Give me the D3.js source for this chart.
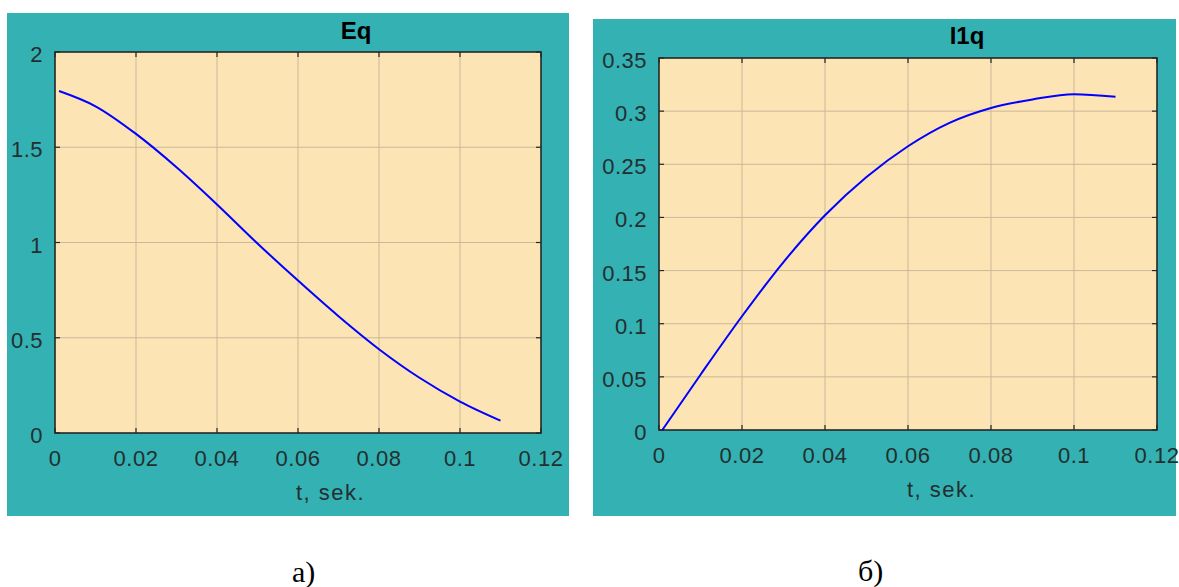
<!DOCTYPE html>
<html>
<head>
<meta charset="utf-8">
<script src="https://cdn.jsdelivr.net/npm/d3@7/dist/d3.min.js"></script>
<style>
body { margin: 0; background: #fff; }
svg { display: block; }
</style>
</head>
<body>
<script>
// data
var tEq = [0.001, 0.01, 0.02, 0.03, 0.04, 0.05, 0.06, 0.07, 0.08, 0.09, 0.1, 0.11];
var eqValues = [1.795, 1.715, 1.570, 1.395, 1.200, 0.995, 0.800, 0.613, 0.440, 0.290, 0.165, 0.065];

var tI1q = [0.0008, 0.01, 0.02, 0.03, 0.04, 0.05, 0.06, 0.07, 0.08, 0.09, 0.1, 0.11];
var i1qValues = [0, 0.052, 0.107, 0.158, 0.202, 0.238, 0.267, 0.289, 0.303, 0.311, 0.316, 0.3135];

var xTicks = [0, 0.02, 0.04, 0.06, 0.08, 0.1, 0.12];
var xTickLabels = ["0", "0.02", "0.04", "0.06", "0.08", "0.1", "0.12"];
var eqTicks = [0, 0.5, 1, 1.5, 2];
var eqTickLabels = ["0", "0.5", "1", "1.5", "2"];
var i1qTicks = [0, 0.05, 0.1, 0.15, 0.2, 0.25, 0.3, 0.35];
var i1qTickLabels = ["0", "0.05", "0.1", "0.15", "0.2", "0.25", "0.3", "0.35"];

var titles = ["Eq", "I1q"];
var xLabel = "t, sek.";
var captions = ["а)", "б)"];

var width = 1179, height = 587;

var svg = d3.select("body").append("svg")
    .attr("width", width)
    .attr("height", height);

var panels = [
    {box: [7, 13, 562, 503], plot: {l: 55, t: 52, r: 541, b: 433},
     t: tEq, v: eqValues, yTicks: eqTicks, yLabels: eqTickLabels, yMax: 2,
     title: titles[0], titleX: 356, titleY: 39, xlabX: 296, xlabY: 500,
     cap: captions[0], capX: 292, capY: 582},
    {box: [593, 19, 583, 497], plot: {l: 659, t: 58, r: 1157, b: 430},
     t: tI1q, v: i1qValues, yTicks: i1qTicks, yLabels: i1qTickLabels, yMax: 0.35,
     title: titles[1], titleX: 967, titleY: 44, xlabX: 907, xlabY: 497,
     cap: captions[1], capX: 858, capY: 581}
];

var textCol = "#232f2f";

panels.forEach(function(p) {
    var g = svg.append("g");
    var pl = p.plot;

    g.append("rect")
        .attr("x", p.box[0]).attr("y", p.box[1])
        .attr("width", p.box[2]).attr("height", p.box[3])
        .attr("fill", "#34b1b3");

    var x = d3.scaleLinear().domain([0, 0.12]).range([pl.l, pl.r]);
    var y = d3.scaleLinear().domain([0, p.yMax]).range([pl.b, pl.t]);

    g.append("rect")
        .attr("x", pl.l).attr("y", pl.t)
        .attr("width", pl.r - pl.l).attr("height", pl.b - pl.t)
        .attr("fill", "#fde4b4");

    // grid
    g.selectAll(".vg").data(xTicks.slice(1, -1)).enter().append("line")
        .attr("x1", function(d) { return x(d); }).attr("x2", function(d) { return x(d); })
        .attr("y1", pl.t).attr("y2", pl.b)
        .attr("stroke", "#c9b999").attr("stroke-width", 1);
    g.selectAll(".hg").data(p.yTicks.slice(1, -1)).enter().append("line")
        .attr("y1", function(d) { return y(d); }).attr("y2", function(d) { return y(d); })
        .attr("x1", pl.l).attr("x2", pl.r)
        .attr("stroke", "#c9b999").attr("stroke-width", 1);

    // inward tick marks
    xTicks.forEach(function(d) {
        g.append("line").attr("x1", x(d)).attr("x2", x(d)).attr("y1", pl.b).attr("y2", pl.b - 5)
            .attr("stroke", "#262626").attr("stroke-width", 1.2);
        g.append("line").attr("x1", x(d)).attr("x2", x(d)).attr("y1", pl.t).attr("y2", pl.t + 5)
            .attr("stroke", "#262626").attr("stroke-width", 1.2);
    });
    p.yTicks.forEach(function(d) {
        g.append("line").attr("y1", y(d)).attr("y2", y(d)).attr("x1", pl.l).attr("x2", pl.l + 5)
            .attr("stroke", "#262626").attr("stroke-width", 1.2);
        g.append("line").attr("y1", y(d)).attr("y2", y(d)).attr("x1", pl.r).attr("x2", pl.r - 5)
            .attr("stroke", "#262626").attr("stroke-width", 1.2);
    });

    g.append("rect")
        .attr("x", pl.l).attr("y", pl.t)
        .attr("width", pl.r - pl.l).attr("height", pl.b - pl.t)
        .attr("fill", "none").attr("stroke", "#262626").attr("stroke-width", 1.6);

    // tick labels
    g.selectAll(".xl").data(xTicks).enter().append("text")
        .attr("x", function(d) { return x(d); })
        .attr("y", pl.b + 33)
        .attr("text-anchor", "middle")
        .attr("font-family", "Liberation Sans, Arial, sans-serif")
        .attr("font-size", 22).attr("letter-spacing", 0.5).attr("fill", textCol)
        .text(function(d, i) { return xTickLabels[i]; });
    g.selectAll(".yl").data(p.yTicks).enter().append("text")
        .attr("x", pl.l - 12)
        .attr("y", function(d) { return y(d) + 10; })
        .attr("text-anchor", "end")
        .attr("font-family", "Liberation Sans, Arial, sans-serif")
        .attr("font-size", 22).attr("letter-spacing", 0.5).attr("fill", textCol)
        .text(function(d, i) { return p.yLabels[i]; });

    g.append("text")
        .attr("x", p.titleX).attr("y", p.titleY)
        .attr("text-anchor", "middle")
        .attr("font-family", "Liberation Sans, Arial, sans-serif")
        .attr("font-weight", "bold")
        .attr("font-size", 24).attr("fill", "#000")
        .text(p.title);

    g.append("text")
        .attr("x", p.xlabX).attr("y", p.xlabY)
        .attr("font-family", "Liberation Sans, Arial, sans-serif")
        .attr("font-size", 22).attr("letter-spacing", 1.5).attr("fill", textCol)
        .text(xLabel);

    var line = d3.line()
        .x(function(d, i) { return x(p.t[i]); })
        .y(function(d) { return y(d); })
        .curve(d3.curveMonotoneX);

    g.append("path")
        .datum(p.v)
        .attr("d", line)
        .attr("fill", "none")
        .attr("stroke", "#0000ff")
        .attr("stroke-width", 2);

    svg.append("text")
        .attr("x", p.capX).attr("y", p.capY)
        .attr("font-family", "Liberation Serif, Times New Roman, serif")
        .attr("font-size", 30).attr("fill", "#000")
        .text(p.cap);
});
</script>
</body>
</html>
